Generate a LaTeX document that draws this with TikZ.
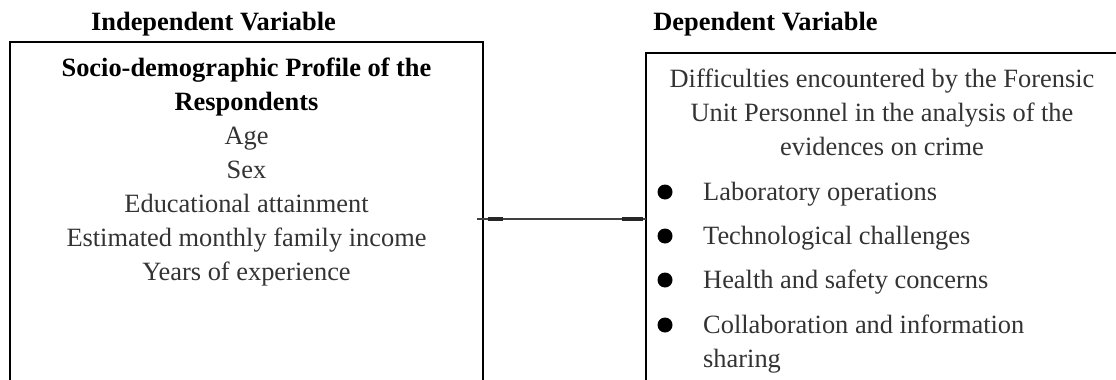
\documentclass[tikz,border=0pt]{standalone}
\usepackage{fontspec}
\setmainfont{Liberation Serif}
\begin{document}
\begin{tikzpicture}[x=1pt,y=-1pt,
  frame/.style={draw=black, line width=2pt, outer sep=0pt, inner sep=0pt,
                minimum width=473pt, minimum height=420pt, anchor=north west},
  txt/.style={anchor=base, inner sep=0pt, text=black!80,
              font=\fontsize{26.4}{34}\selectfont},
  head/.style={txt, text=black, font=\fontsize{26.4}{34}\selectfont\bfseries},
  item/.style={txt, anchor=base west},
  dot/.style={circle, fill=black, inner sep=0pt, minimum size=15pt},
  link/.style={draw=black!75, line width=2pt},
  tick/.style={draw=black!85, line width=4.5pt}]
\useasboundingbox (0,0) rectangle (1116,380);
\clip (0,0) rectangle (1116,380);

% column headings
\node[head] (ivhead) at (213.5,30) {Independent Variable};
\node[head] (dvhead) at (765.5,30) {Dependent Variable};

% the two frames (their lower parts run past the page)
\node[frame] (ivbox) at (10,42) {};
\node[frame] (dvbox) at (646,53) {};

% independent variable
\node[head] (iv1) at (246.5,76)  {Socio-demographic Profile of the};
\node[head] (iv2) at (246.5,110) {Respondents};
\node[txt]  (iv3) at (246.5,144) {Age};
\node[txt]  (iv4) at (246.5,178) {Sex};
\node[txt]  (iv5) at (246.5,212) {Educational attainment};
\node[txt]  (iv6) at (246.5,246) {Estimated monthly family income};
\node[txt]  (iv7) at (246.5,280) {Years of experience};

% dependent variable
\node[txt] (dv1) at (882,87)  {Difficulties encountered by the Forensic};
\node[txt] (dv2) at (882,121) {Unit Personnel in the analysis of the};
\node[txt] (dv3) at (882,155) {evidences on crime};

\node[dot]  (b1) at (665,192) {};
\node[item] (d1) at (703,200) {Laboratory operations};
\node[dot]  (b2) at (665,236) {};
\node[item] (d2) at (703,244) {Technological challenges};
\node[dot]  (b3) at (665,280) {};
\node[item] (d3) at (703,288) {Health and safety concerns};
\node[dot]  (b4) at (665,325) {};
\node[item] (d4) at (703,333) {Collaboration and information};
\node[item] (d5) at (703,367) {sharing};

% connector between the frames
\coordinate (cstart) at (477,219);
\draw[link] (cstart) -- (dvbox.west |- cstart);
\coordinate (la) at (488,219);
\coordinate (lb) at (503,219);
\coordinate (ra) at (622,219);
\coordinate (rb) at (643,219);
\draw[tick] (la) -- (lb);
\draw[tick] (ra) -- (rb);
\end{tikzpicture}
\end{document}
